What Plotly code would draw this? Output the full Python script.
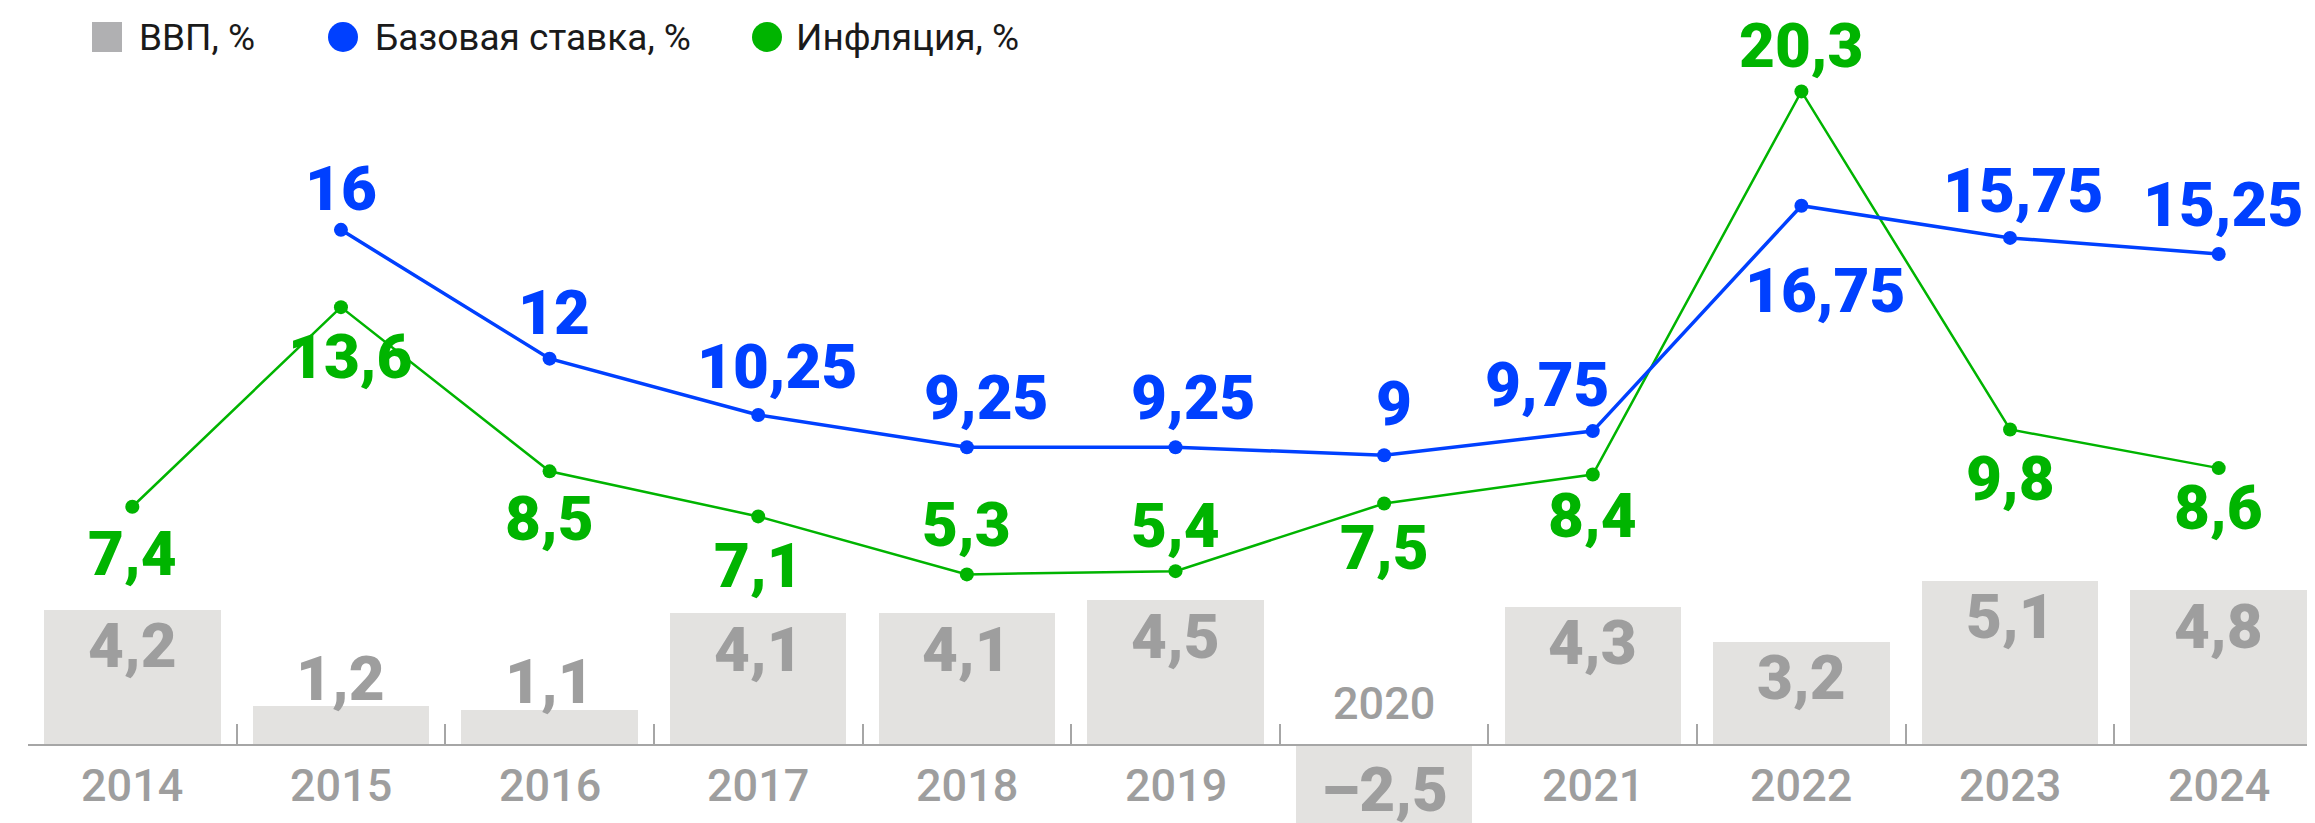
import plotly.graph_objects as go

# данные
years = ['2014', '2015', '2016', '2017', '2018', '2019', '2020', '2021', '2022', '2023', '2024']
gdp = [4.2, 1.2, 1.1, 4.1, 4.1, 4.5, -2.5, 4.3, 3.2, 5.1, 4.8]
key_rate = [None, 16, 12, 10.25, 9.25, 9.25, 9, 9.75, 16.75, 15.75, 15.25]
inflation = [7.4, 13.6, 8.5, 7.1, 5.3, 5.4, 7.5, 8.4, 20.3, 9.8, 8.6]

# смещения подписей (px): по вертикали (+ вверх) и по горизонтали
rate_dy = [0, 41, 46, 48, 50, 50, 52, 47, -85, 47, 50]
rate_dx = [0, 0, 4, 19, 20, 18, 10, -45, 24, 13, 4]
infl_dy = [-47, -49, -47, -49, 50, 46, -44, -41, 46, -49, -39]
infl_dx = [0, 10, 0, 0, 0, 0, 0, 0, 0, 0, 0]

# у страницы отступ body 8px, поэтому всё сдвинуто на 8px
W, H, ML, MR = 2315, 823, 20, 0
Y_MIN, Y_MAX = -2.67, 22.89

BLUE = '#0040ff'
GREEN = '#00b400'
GREY_BAR = '#e3e2e0'
GREY_TXT = '#9e9e9e'
AXIS = '#a6a6a6'


def vfont(color):
    return dict(family='Roboto', size=62, color=color, weight=900)


def fmt(v):
    s = f'{abs(v):g}'.replace('.', ',')
    return ('–' + s) if v < 0 else s


fig = go.Figure()

fig.add_trace(go.Bar(x=years, y=gdp, width=0.846, marker_color=GREY_BAR,
                     marker_line_width=0, hoverinfo='skip', showlegend=False))

fig.add_trace(go.Scatter(x=years, y=inflation, mode='lines+markers',
                         line=dict(color=GREEN, width=2.5),
                         marker=dict(color=GREEN, size=14),
                         hoverinfo='skip', showlegend=False))

fig.add_trace(go.Scatter(x=years, y=key_rate, mode='lines+markers',
                         line=dict(color=BLUE, width=3.5),
                         marker=dict(color=BLUE, size=14),
                         hoverinfo='skip', showlegend=False))

ann = []
# подписи столбцов ВВП и годы
for i, (yr, v) in enumerate(zip(years, gdp)):
    if v < 0:
        dy = 36
    elif v < 2:
        dy = 28
    else:
        dy = -36
    ann.append(dict(xref='x', yref='y', x=i, y=v, text=fmt(v), showarrow=False,
                    yshift=dy, yanchor='middle', font=vfont(GREY_TXT)))
    ann.append(dict(xref='x', yref='y', x=i, y=0, text=yr, showarrow=False,
                    yshift=42 if v < 0 else -40, yanchor='middle',
                    font=dict(family='Roboto', size=45, color=GREY_TXT, weight=500)))

for i, (v, dy, dx) in enumerate(zip(key_rate, rate_dy, rate_dx)):
    if v is None:
        continue
    ann.append(dict(xref='x', yref='y', x=i, y=v, text=fmt(v), showarrow=False,
                    yshift=dy, xshift=dx, yanchor='middle', font=vfont(BLUE)))

for i, (v, dy, dx) in enumerate(zip(inflation, infl_dy, infl_dx)):
    ann.append(dict(xref='x', yref='y', x=i, y=v, text=fmt(v), showarrow=False,
                    yshift=dy, xshift=dx, yanchor='middle', font=vfont(GREEN)))


# легенда (координаты страницы -> доли области построения)
def px_x(px):
    return (px - 8 - ML) / (W - ML - MR)


leg_y = 1 - (37 - 8) / H
legend_items = [
    ('ВВП, %', '#b0b0b2', 'rect', 92, 137),
    ('Базовая ставка, %', BLUE, 'circle', 328, 373),
    ('Инфляция, %', GREEN, 'circle', 752, 794),
]
shapes = []
for label, col, kind, sx, tx in legend_items:
    shapes.append(dict(type=kind, xref='paper', yref='paper',
                       xsizemode='pixel', ysizemode='pixel',
                       xanchor=px_x(sx), yanchor=leg_y,
                       x0=0, x1=30, y0=-15, y1=15,
                       fillcolor=col, line_width=0))
    ann.append(dict(xref='paper', yref='paper', x=px_x(tx), y=leg_y,
                    xanchor='left', yanchor='middle', text=label, showarrow=False,
                    font=dict(family='Roboto', size=37, color='#1a1a1a', weight=400)))

fig.update_layout(
    width=W, height=H,
    margin=dict(l=ML, r=MR, t=0, b=0),
    paper_bgcolor='white', plot_bgcolor='white',
    annotations=ann, shapes=shapes,
    bargap=0,
)

fig.update_xaxes(type='category', range=[-0.5, 10.5], showticklabels=False,
                 showgrid=False, zeroline=False,
                 ticks='inside', tickson='boundaries', ticklen=20, tickwidth=2,
                 tickcolor=AXIS, showline=True, linecolor=AXIS, linewidth=2,
                 anchor='free', position=(0 - Y_MIN) / (Y_MAX - Y_MIN))
fig.update_yaxes(range=[Y_MIN, Y_MAX], visible=False, showgrid=False, zeroline=False)

fig.write_html('out.html')
